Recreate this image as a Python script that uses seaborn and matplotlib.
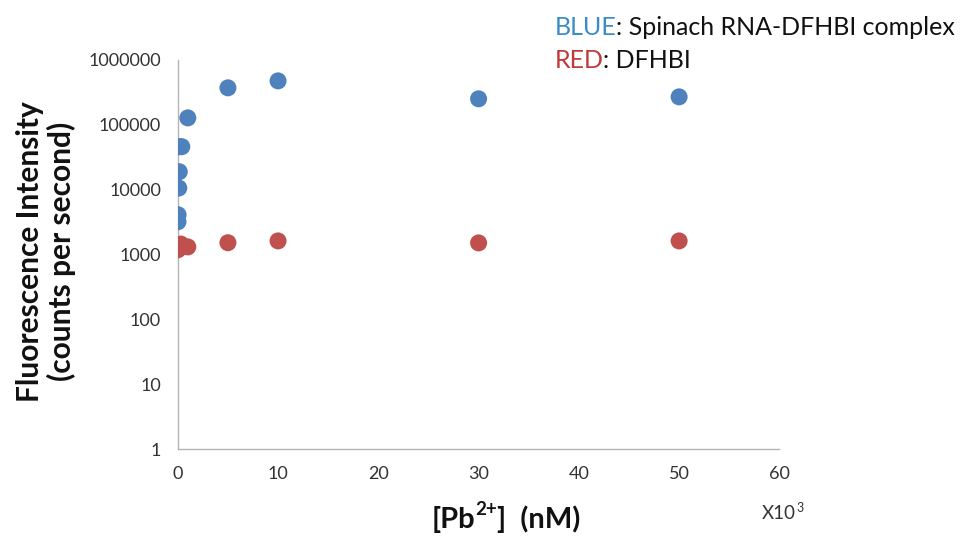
import matplotlib
matplotlib.use("Agg")
import matplotlib.pyplot as plt
import seaborn as sns
import pandas as pd
from matplotlib.ticker import FixedLocator, FixedFormatter, NullLocator

# Pb2+ concentration in units of 10^3 nM
pb_complex = [0.02, 0.03, 0.1, 0.15, 0.2, 0.4, 1, 5, 10, 30, 50]
fluor_complex = [3200, 4100, 10600, 18900, 46000, 46000, 128000, 372000, 476000, 252000, 270000]
pb_dye = [0.0, 0.3, 1, 5, 10, 30, 50]
fluor_dye = [1180, 1450, 1310, 1520, 1620, 1510, 1620]

x_ticks = [0, 10, 20, 30, 40, 50, 60]
y_ticks = [1, 10, 100, 1000, 10000, 100000, 1000000]

BLUE = "#4F81BD"
RED = "#C0504D"

df = pd.concat([
    pd.DataFrame({"pb": pb_complex, "fluor": fluor_complex, "sample": "complex"}),
    pd.DataFrame({"pb": pb_dye, "fluor": fluor_dye, "sample": "dye"}),
])

sns.set_style("white")
plt.rcParams["font.family"] = ["Lato", "DejaVu Sans"]

fig = plt.figure(figsize=(9.61, 5.38), dpi=100)
ax = fig.add_axes([0.185, 0.1654, 0.626, 0.7231])

sns.scatterplot(data=df, x="pb", y="fluor", hue="sample",
                palette={"complex": BLUE, "dye": RED},
                s=150, linewidth=0, legend=False, ax=ax, zorder=3)

ax.set_yscale("log")
ax.set_xlim(0, 60)
ax.set_ylim(1, 1000000)
ax.xaxis.set_major_locator(FixedLocator(x_ticks))
ax.yaxis.set_major_locator(FixedLocator(y_ticks))
ax.yaxis.set_major_formatter(FixedFormatter([str(v) for v in y_ticks]))
ax.yaxis.set_minor_locator(NullLocator())
ax.set_xlabel("")
ax.set_ylabel("")

for side in ["top", "right"]:
    ax.spines[side].set_visible(False)
for side in ["left", "bottom"]:
    ax.spines[side].set_color("#b4b4b4")
    ax.spines[side].set_linewidth(1.0)
ax.tick_params(axis="both", which="major", length=6, width=1.0,
               color="#b4b4b4", labelsize=13, labelcolor="#333333")
ax.tick_params(axis="x", direction="out", pad=6)
ax.tick_params(axis="y", direction="out", pad=6)

renderer = fig.canvas.get_renderer()


def run_of_text(x, y, pieces):
    """Lay out differently styled pieces of text side by side on one baseline."""
    cur = x
    for s, props in pieces:
        props = dict(props)
        dy = props.pop("dy", 0.0)
        cur += props.pop("dx", 0.0)
        t = fig.text(cur, y + dy, s, ha="left", va="baseline", **props)
        cur += t.get_window_extent(renderer=renderer).width / fig.bbox.width
    return cur


# axis titles
fig.text(0.048, 0.533, "Fluorescence Intensity\n(counts per second)",
         rotation=90, ha="center", va="center", fontsize=21.5, fontweight="bold",
         linespacing=1.1, color="#111111")

bold = dict(fontsize=21, fontweight="bold", color="#111111")
sup = dict(fontsize=13.5, fontweight="bold", color="#111111", dy=0.024)
run_of_text(0.449, 0.018, [("[Pb", bold), ("2+", sup), ("]  (nM)", bold)])

run_of_text(0.793, 0.035, [("X10", dict(fontsize=13.5, color="#333333")),
                           ("3", dict(fontsize=9, color="#333333", dy=0.014))])

# colour key
key = dict(fontsize=18)
run_of_text(0.577, 0.935, [("BLUE", dict(key, color="#3A8CC4")),
                           (": Spinach RNA-DFHBI complex", dict(key, color="#111111"))])
run_of_text(0.577, 0.873, [("RED", dict(key, color="#C0393B")),
                           (": DFHBI", dict(key, color="#111111"))])

fig.savefig("out.png", dpi=100)
